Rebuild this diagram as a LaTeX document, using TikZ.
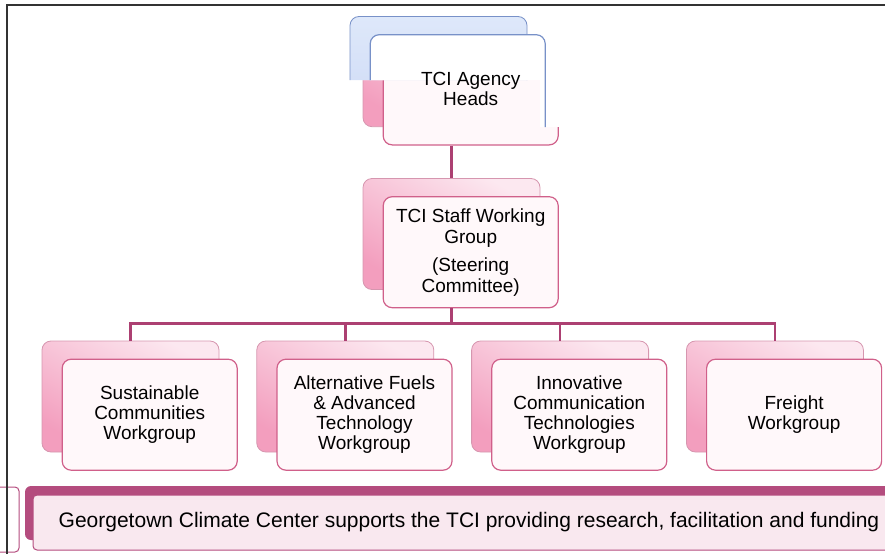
\documentclass[tikz,border=0pt]{standalone}
\usepackage{fontspec}
\setmainfont{Liberation Sans}
\usetikzlibrary{positioning}

\definecolor{linkred}{RGB}{172,64,114}
\definecolor{boxtop}{RGB}{252,232,240}
\definecolor{boxbot}{RGB}{243,158,190}
\definecolor{boxline}{RGB}{214,150,175}
\definecolor{frontline}{RGB}{208,96,138}
\definecolor{frontfill}{RGB}{255,248,250}
\definecolor{bandred}{RGB}{180,76,126}
\definecolor{bandfill}{RGB}{249,232,239}
\definecolor{bluetop}{RGB}{222,232,250}
\definecolor{bluebot}{RGB}{205,218,245}
\definecolor{blueline}{RGB}{120,145,200}

\tikzset{
  backbox/.style={rectangle, rounded corners=9pt, minimum width=177pt, minimum height=111pt,
    top color=boxtop, bottom color=boxbot, shading angle=-30, draw=boxline, line width=0.8pt},
  frontbox/.style={rectangle, rounded corners=9pt, minimum width=175pt, minimum height=111pt,
    fill=frontfill, draw=frontline, line width=1.2pt, inner sep=0pt,
    align=center, font=\fontsize{19}{20}\selectfont},
  boxtext/.style={align=center, inner sep=0pt, font=\fontsize{19}{20}\selectfont},
  link/.style={draw=linkred, line width=2.4pt},
  bandback/.style={rectangle, rounded corners=6pt, fill=bandred, minimum width=880pt, minimum height=54pt},
  bandfront/.style={rectangle, rounded corners=4pt, fill=bandfill, draw=bandred, line width=1pt,
    minimum width=872pt, minimum height=55pt, font=\fontsize{21}{23}\selectfont},
  sidebox/.style={rectangle, rounded corners=4pt, fill=white, draw=bandred, line width=1pt,
    minimum width=59pt, minimum height=65pt},
  frame/.style={draw=black!80, line width=1.5pt},
}

\begin{document}
\begin{tikzpicture}[x=1pt, y=-1pt]
  \useasboundingbox (0,0) rectangle (885,554);

  % staff working group and agency heads
  \node[backbox] (staffb) at (451.5,234) {};
  \node[frontbox, anchor=north west] (staff) at ([shift={(20pt,-18pt)}]staffb.north west)
    {TCI Staff Working\\[1pt]Group\\[8pt](Steering\\[1pt]Committee)};
  \node[backbox] (agencyb) [above=51pt of staffb] {};
  \node[frontbox, anchor=north west] (agency) at ([shift={(20pt,-18pt)}]agencyb.north west) {};
  \begin{scope}
    \clip (340,10) -- (565,10) -- (565,127) -- (540,127) -- (540,80) -- (340,80) -- cycle;
    \fill[white] (340,10) rectangle (565,127);
    \node[backbox, top color=bluetop, bottom color=bluebot, draw=blueline] (agencyblue) at (438.5,72) {};
    \node[frontbox, fill=white, draw=blueline, anchor=north west] (agencyfront)
      at ([shift={(20pt,-18pt)}]agencyblue.north west) {};
  \end{scope}
  \node[boxtext] (agencytxt) at (agency.center) {TCI Agency\\Heads};

  % workgroups
  \node[backbox] (susb) at (130.5,396.5) {};
  \node[frontbox, anchor=north west] (sus) at ([shift={(20pt,-18pt)}]susb.north west)
    {Sustainable\\Communities\\Workgroup};
  \node[backbox] (altb) [right=37pt of susb] {};
  \node[frontbox, anchor=north west] (alt) at ([shift={(20pt,-18pt)}]altb.north west)
    {Alternative Fuels\\\& Advanced\\Technology\\Workgroup};
  \node[backbox] (icb) [right=37pt of altb] {};
  \node[frontbox, anchor=north west] (ic) at ([shift={(20pt,-18pt)}]icb.north west)
    {Innovative\\Communication\\Technologies\\Workgroup};
  \node[backbox] (frtb) [right=37pt of icb] {};
  \node[frontbox, anchor=north west] (frt) at ([shift={(20pt,-18pt)}]frtb.north west)
    {Freight\\Workgroup};

  % connectors
  \draw[link] (agency.south -| agencyb) -- (staffb.north);
  \coordinate (bus) at ([yshift=17pt]susb.north);
  \draw[link] (staff.south -| staffb) -- (staffb |- bus);
  \draw[link] (susb.north) |- (bus -| frtb) -- (frtb.north);
  \draw[link] (altb.north) -- (altb |- bus);
  \draw[link] (icb.north) -- (icb |- bus);

  % support band
  \node[bandback] (gccb) at (465,513) {};
  \node[bandfront] (gcc) at (469,522.5)
    {Georgetown Climate Center supports the TCI providing research, facilitation and funding};
  \node[sidebox] (gccleft) at (-10.5,519.5) {};

  \draw[frame] (7,554) -- (7,5) -- (885,5);
\end{tikzpicture}
\end{document}
